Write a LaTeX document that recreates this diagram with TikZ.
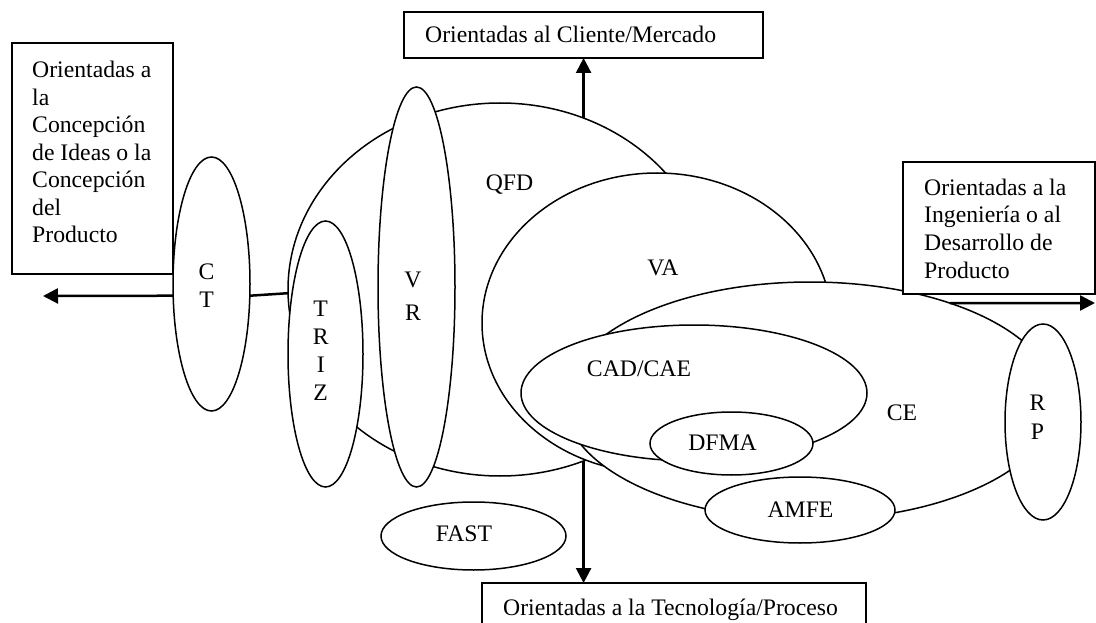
\documentclass[tikz,border=0pt]{standalone}
\usepackage{fontspec}
\setmainfont{Liberation Serif}
\usetikzlibrary{shapes.geometric,arrows.meta}
\begin{document}
\begin{tikzpicture}[x=1pt,y=-1pt,
  oval/.style={ellipse,draw,fill=white,line width=1.5pt,inner sep=0pt,outer sep=0pt},
  box/.style={rectangle,draw,fill=white,line width=1.5pt,inner sep=0pt,outer sep=0pt,anchor=north west},
  lbl/.style={font=\fontsize{23.7}{27.7}\selectfont,inner sep=0pt,anchor=base},
  stack/.style={font=\fontsize{23.7}{27.8}\selectfont,inner sep=0pt,anchor=base,align=center},
  para/.style={font=\fontsize{23.7}{27.6}\selectfont,inner sep=0pt,anchor=base west,align=left},
  arr/.style={line width=2.5pt,-{Triangle[length=15pt,width=15pt]}},
  link/.style={line width=2.5pt}]
\useasboundingbox (0,0) rectangle (1096,623);
\clip (0,0) rectangle (1096,623);
\fill[white] (0,0) rectangle (1096,623);

% ellipses, back to front
\node[oval,minimum width=424pt,minimum height=373pt] (qfd) at (500,289.5) {};
\node[oval,minimum width=75pt,minimum height=266pt] (triz) at (325.5,354) {};
\node[oval,minimum width=77pt,minimum height=400pt] (vr) at (416.5,287) {};
\node[oval,minimum width=77pt,minimum height=254pt] (ct) at (211.5,284) {};
\node[oval,minimum width=350pt,minimum height=300pt] (va) at (657,323) {};
\node[oval,minimum width=492pt,minimum height=238pt] (ce) at (810,401) {};
\node[oval,minimum width=346pt,minimum height=136pt] (cad) at (694,393) {};
\node[oval,minimum width=163pt,minimum height=63pt] (dfma) at (731.5,443.5) {};
\node[oval,minimum width=190pt,minimum height=66pt] (amfe) at (800,510) {};
\node[oval,minimum width=76pt,minimum height=196pt] (rp) at (1043,422) {};
\node[oval,minimum width=185pt,minimum height=68pt] (fast) at (473.5,536) {};

% labels of the ellipses (multi-line: anchor base = last line)
\node[lbl] (qfdl) at (509.5,190) {QFD};
\node[lbl] (val) at (663,276) {VA};
\node[lbl] (cadl) at (639,376) {CAD/CAE};
\node[lbl] (cel) at (902,420.7) {CE};
\node[lbl] (dfmal) at (722.5,450.7) {DFMA};
\node[lbl] (amfel) at (800.5,517) {AMFE};
\node[lbl] (fastl) at (464,541) {FAST};
\node[stack] (ctl) at (206.5,307.7) {C\\T};
\node[stack] (trizl) at (320.7,400) {T\\R\\I\\Z};
\node[stack] (vrl) at (413,320) {V\\[5pt]R};
\node[stack] (rpl) at (1037.5,439) {R\\[0.5pt]P};

% boxes
\node[box,minimum width=161pt,minimum height=231pt] (lbox) at (12,43) {};
\node[para] (lboxt) at (32,243) {Orientadas a\\la\\Concepción\\de Ideas o la\\Concepción\\del\\Producto};
\node[box,minimum width=359pt,minimum height=46pt] (tbox) at (404,12) {};
\node[para] (tboxt) at (425,43) {Orientadas al Cliente/Mercado};
\node[box,minimum width=192pt,minimum height=132pt] (rbox) at (903,162) {};
\node[para] (rboxt) at (924,278) {Orientadas a la\\Ingeniería o al\\Desarrollo de\\Producto};
\node[box,minimum width=384pt,minimum height=60pt] (bbox) at (482,583) {};
\node[para] (bboxt) at (503,615) {Orientadas a la Tecnología/Proceso};

% connectors
\coordinate (lend) at (43,296);
\coordinate (rend) at (1095,303);
\draw[arr] (qfd.64.8) -- (qfd.64.8 |- tbox.south);
\draw[arr] (qfd.-64.6) -- (qfd.-64.6 |- bbox.north);
\draw[arr] (ct.197.4) -- (lend);
\draw[link] (ct.-17.4) -- (qfd.181.8);
\draw[arr] (ce.35.1) -- (rend);
\end{tikzpicture}
\end{document}
